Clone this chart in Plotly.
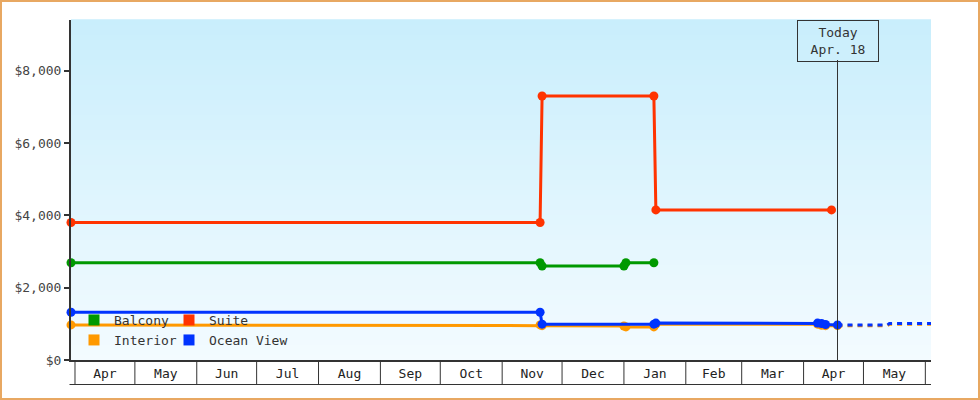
import plotly.graph_objects as go
import pandas as pd

# ---------------- data ----------------
months = ["Apr", "May", "Jun", "Jul", "Aug", "Sep", "Oct", "Nov", "Dec",
          "Jan", "Feb", "Mar", "Apr", "May"]
first_month = "2014-04-01"
today = "2015-04-18"
today_label = "Today<br>Apr. 18"

y_ticks = [0, 2000, 4000, 6000, 8000]
y_tick_labels = ["$0", "$2,000", "$4,000", "$6,000", "$8,000"]

balcony_dates = ["2014-03-30", "2014-11-20", "2014-11-21", "2015-01-01",
                 "2015-01-02", "2015-01-16"]
balcony_prices = [2690, 2690, 2600, 2600, 2690, 2690]

suite_dates = ["2014-03-30", "2014-11-20", "2014-11-21", "2015-01-16",
               "2015-01-17", "2015-04-15"]
suite_prices = [3800, 3800, 7300, 7300, 4150, 4150]

interior_dates = ["2014-03-30", "2014-11-20", "2014-11-21", "2015-01-01",
                  "2015-01-02", "2015-01-16", "2015-01-17", "2015-04-08",
                  "2015-04-10", "2015-04-12", "2015-04-18"]
interior_prices = [970, 970, 950, 940, 915, 915, 990, 990, 960, 950, 950]

ocean_dates = ["2014-03-30", "2014-11-20", "2014-11-21", "2015-01-16",
               "2015-01-17", "2015-04-08", "2015-04-10", "2015-04-12",
               "2015-04-18"]
ocean_prices = [1320, 1320, 990, 990, 1020, 1020, 1010, 980, 970]

# projections after today (dashed)
interior_fc_dates = ["2015-04-18", "2015-05-13", "2015-05-14", "2015-06-10"]
interior_fc_prices = [950, 950, 985, 985]
ocean_fc_dates = ["2015-04-18", "2015-05-13", "2015-05-14", "2015-06-10"]
ocean_fc_prices = [970, 970, 1010, 1010]

# ---------------- styling ----------------
FONT = "DejaVu Sans Mono"
TXT = "#333333"
AX = "#333333"
C_BAL = "#009900"
C_SUI = "#ff3300"
C_INT = "#ff9900"
C_OCE = "#0033ff"

x_range = ["2014-03-30", "2015-06-03 20:00"]
y_range = [0, 9400]

fig = go.Figure()


def series(dates, prices, color, name):
    fig.add_trace(go.Scatter(
        x=dates, y=prices, mode="lines+markers", name=name,
        line=dict(color=color, width=3),
        marker=dict(color=color, size=9, symbol="circle"),
        showlegend=False, legendgroup=name, cliponaxis=False,
        hovertemplate=name + "<br>%{x|%b %d}: $%{y:,}<extra></extra>"))


def forecast(dates, prices, color, name):
    fig.add_trace(go.Scatter(
        x=dates, y=prices, mode="lines", name=name,
        line=dict(color=color, width=3, dash="5px,5px"),
        showlegend=False, legendgroup=name, hoverinfo="skip"))


series(interior_dates, interior_prices, C_INT, "Interior")
forecast(interior_fc_dates, interior_fc_prices, C_INT, "Interior")
series(balcony_dates, balcony_prices, C_BAL, "Balcony")
series(suite_dates, suite_prices, C_SUI, "Suite")
series(ocean_dates, ocean_prices, C_OCE, "Ocean View")
forecast(ocean_fc_dates, ocean_fc_prices, C_OCE, "Ocean View")

plot_w = 980 - 71 - 49
plot_h = 400 - 20 - 40

# legend entries (square swatches), 2 x 2 grid, one legend box each
col_x = [(74 - 71) / plot_w, (169 - 71) / plot_w]
row_y = [(360 - 320) / plot_h, (360 - 340) / plot_h]
legend_items = [("Balcony", C_BAL), ("Suite", C_SUI),
                ("Interior", C_INT), ("Ocean View", C_OCE)]
legend_layouts = {}
for i, (name, color) in enumerate(legend_items):
    key = "legend" if i == 0 else "legend%d" % (i + 1)
    fig.add_trace(go.Scatter(
        x=[None], y=[None], mode="markers", name=name, legendgroup=name,
        marker=dict(color=color, size=11, symbol="square"),
        showlegend=True, legend=key))
    legend_layouts[key] = dict(
        x=col_x[i % 2], y=row_y[i // 2], xanchor="left", yanchor="middle",
        orientation="h", bgcolor="rgba(0,0,0,0)", borderwidth=0,
        font=dict(family=FONT, size=13, color=TXT))

# month cells below the axis
starts = pd.date_range(first_month, periods=len(months) + 1, freq="MS")
mids = [starts[i] + (starts[i + 1] - starts[i]) / 2 for i in range(len(months))]

cell_h = 24.5 / plot_h

shapes = []
# gradient background
N = 68
top = (201, 238, 252)
bot = (243, 251, 255)
for i in range(N):
    t = i / (N - 1)
    c = tuple(round(bot[k] + (top[k] - bot[k]) * t) for k in range(3))
    shapes.append(dict(type="rect", xref="paper", yref="paper",
                       x0=0, x1=1, y0=i / N, y1=(i + 1) / N + 0.002,
                       fillcolor="rgb(%d,%d,%d)" % c, line=dict(width=0),
                       layer="below"))
for s in starts:
    shapes.append(dict(type="line", xref="x", yref="paper",
                       x0=s, x1=s, y0=0, y1=-cell_h,
                       line=dict(color=AX, width=1)))
shapes.append(dict(type="line", xref="paper", yref="paper",
                   x0=-1.5 / plot_w, x1=1, y0=-cell_h, y1=-cell_h,
                   line=dict(color=AX, width=1)))
# today marker line
shapes.append(dict(type="line", xref="x", yref="paper",
                   x0=today, x1=today, y0=0, y1=(plot_h - 40) / plot_h,
                   line=dict(color=AX, width=1)))
# outer frame
shapes.append(dict(type="rect", xref="paper", yref="paper",
                   x0=-70 / plot_w, x1=1 + 48 / plot_w,
                   y0=-39 / plot_h, y1=1 + 19 / plot_h,
                   line=dict(color="#e8a862", width=2)))

fig.update_layout(
    width=980, height=400,
    margin=dict(l=71, r=49, t=20, b=40),
    paper_bgcolor="white", plot_bgcolor="white",
    font=dict(family=FONT, size=13, color=TXT),
    shapes=shapes,
    hovermode="closest",
    xaxis=dict(type="date", range=x_range, showgrid=False, zeroline=False,
               showline=True, linecolor=AX, linewidth=2,
               tickvals=mids, ticktext=months, ticks="",
               tickfont=dict(family=FONT, size=13, color="#222222"),
               ticklabelstandoff=0, fixedrange=True),
    yaxis=dict(range=y_range, showgrid=False, zeroline=False,
               showline=True, linecolor=AX, linewidth=2,
               tickvals=y_ticks, ticktext=y_tick_labels,
               ticks="outside", ticklen=5, tickwidth=2, tickcolor=AX,
               tickfont=dict(family=FONT, size=13, color="#444444"),
               fixedrange=True),
    annotations=[dict(x=today, xref="x", y=1, yref="paper", yanchor="top",
                      text=today_label, showarrow=False, align="center",
                      width=80, height=40, borderpad=0, borderwidth=1,
                      bordercolor=AX, bgcolor="rgba(0,0,0,0)",
                      font=dict(family=FONT, size=13, color=TXT))],
    **legend_layouts,
)

fig.write_html("out.html", config={"displayModeBar": False},
               post_script="document.body.style.margin='0';")
